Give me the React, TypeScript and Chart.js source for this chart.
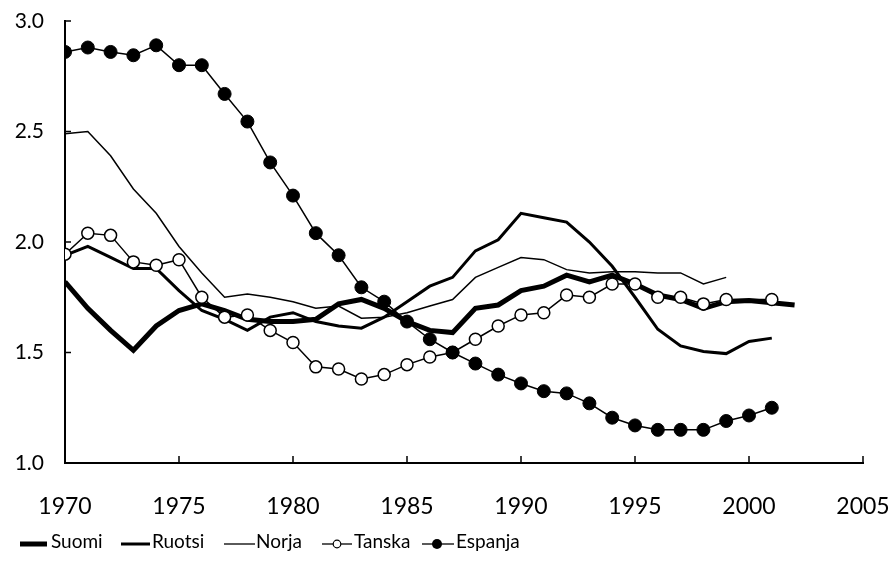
import React, { useEffect, useRef } from 'react';
import { Chart, registerables } from 'chart.js';
Chart.register(...registerables);

const years = [1970, 1971, 1972, 1973, 1974, 1975, 1976, 1977, 1978, 1979, 1980, 1981, 1982, 1983, 1984, 1985, 1986, 1987, 1988, 1989, 1990, 1991, 1992, 1993, 1994, 1995, 1996, 1997, 1998, 1999, 2000, 2001, 2002];

const suomi = [1.82, 1.70, 1.60, 1.51, 1.62, 1.69, 1.72, 1.69, 1.65, 1.64, 1.64, 1.65, 1.72, 1.74, 1.70, 1.64, 1.60, 1.59, 1.70, 1.715, 1.78, 1.80, 1.85, 1.82, 1.85, 1.81, 1.76, 1.74, 1.70, 1.73, 1.735, 1.725, 1.715];
const ruotsi = [1.94, 1.98, 1.93, 1.88, 1.88, 1.78, 1.69, 1.65, 1.60, 1.66, 1.68, 1.64, 1.62, 1.61, 1.66, 1.73, 1.80, 1.84, 1.96, 2.01, 2.13, 2.11, 2.09, 2.00, 1.89, 1.75, 1.605, 1.53, 1.505, 1.495, 1.55, 1.565];
const norja = [2.49, 2.50, 2.39, 2.24, 2.13, 1.98, 1.86, 1.75, 1.765, 1.75, 1.73, 1.70, 1.71, 1.655, 1.66, 1.68, 1.71, 1.74, 1.84, 1.885, 1.93, 1.92, 1.875, 1.86, 1.865, 1.865, 1.86, 1.86, 1.81, 1.84];
const tanska = [1.945, 2.04, 2.03, 1.91, 1.895, 1.92, 1.75, 1.66, 1.67, 1.60, 1.545, 1.435, 1.425, 1.38, 1.40, 1.445, 1.48, 1.50, 1.56, 1.62, 1.67, 1.68, 1.76, 1.75, 1.81, 1.81, 1.75, 1.75, 1.72, 1.74, null, 1.74];
const espanja = [2.86, 2.88, 2.86, 2.845, 2.89, 2.80, 2.80, 2.67, 2.545, 2.36, 2.21, 2.04, 1.94, 1.795, 1.73, 1.64, 1.56, 1.50, 1.45, 1.40, 1.36, 1.325, 1.315, 1.27, 1.205, 1.17, 1.15, 1.15, 1.15, 1.19, 1.215, 1.25];

const xTicks = [1970, 1975, 1980, 1985, 1990, 1995, 2000, 2005];
const yTicks = [1.0, 1.5, 2.0, 2.5, 3.0];
const seriesNames = ['Suomi', 'Ruotsi', 'Norja', 'Tanska', 'Espanja'];

const FONT = 'Lato, "Open Sans", sans-serif';
const LEGEND_FONT = '"Liberation Sans Narrow", Lato, sans-serif';

const toPoints = (vals: (number | null)[]) =>
  vals.map((v, i) => ({ x: years[i], y: v }));

const innerTicks = {
  id: 'innerTicks',
  afterDraw(chart: any) {
    const { ctx, chartArea, scales } = chart;
    ctx.save();
    ctx.strokeStyle = '#000';
    ctx.lineWidth = 1.5;
    ctx.beginPath();
    xTicks.forEach((t) => {
      const px = scales.x.getPixelForValue(t);
      ctx.moveTo(px, chartArea.bottom);
      ctx.lineTo(px, chartArea.bottom - 7);
    });
    yTicks.forEach((t) => {
      const py = scales.y.getPixelForValue(t);
      ctx.moveTo(chartArea.left, py);
      ctx.lineTo(chartArea.left + 6, py);
    });
    ctx.stroke();
    ctx.restore();
  },
};

export default function App() {
  const ref = useRef<HTMLCanvasElement | null>(null);
  useEffect(() => {
    if (!ref.current) return;
    const chart = new Chart(ref.current, {
      type: 'line',
      data: {
        datasets: [
          {
            label: seriesNames[0],
            data: toPoints(suomi),
            borderColor: '#000',
            borderWidth: 5,
            pointRadius: 0,
            order: 4,
          },
          {
            label: seriesNames[1],
            data: toPoints(ruotsi),
            borderColor: '#000',
            borderWidth: 3,
            pointRadius: 0,
            order: 3,
          },
          {
            label: seriesNames[2],
            data: toPoints(norja),
            borderColor: '#000',
            borderWidth: 1.5,
            pointRadius: 0,
            order: 2,
          },
          {
            label: seriesNames[3],
            data: toPoints(tanska),
            borderColor: '#000',
            borderWidth: 1.5,
            pointRadius: 6,
            pointBackgroundColor: '#fff',
            pointBorderColor: '#000',
            pointBorderWidth: 1.5,
            spanGaps: true,
            order: 1,
          },
          {
            label: seriesNames[4],
            data: toPoints(espanja),
            borderColor: '#000',
            borderWidth: 1.5,
            pointRadius: 6.5,
            pointBackgroundColor: '#000',
            pointBorderColor: '#000',
            pointBorderWidth: 1,
            order: 0,
          },
        ],
      },
      options: {
        animation: false,
        responsive: false,
        maintainAspectRatio: false,
        layout: { padding: { top: 21, right: 32, left: 0, bottom: 0 } },
        plugins: { legend: { display: false }, tooltip: { enabled: false } },
        elements: { line: { tension: 0 } },
        scales: {
          x: {
            type: 'linear',
            min: 1970,
            max: 2005,
            afterBuildTicks: (s: any) => {
              s.ticks = xTicks.map((v) => ({ value: v }));
            },
            afterFit: (s: any) => {
              s.height = 115;
              s.paddingLeft = 0;
              s.paddingRight = 0;
            },
            grid: { display: false, drawTicks: false },
            border: { display: true, color: '#000', width: 2 },
            ticks: {
              color: '#000',
              font: { family: FONT, size: 23 },
              padding: 30,
              maxRotation: 0,
              callback: (v: any) => String(v),
            },
          },
          y: {
            type: 'linear',
            min: 1.0,
            max: 3.0,
            afterBuildTicks: (s: any) => {
              s.ticks = yTicks.map((v) => ({ value: v }));
            },
            afterFit: (s: any) => {
              s.width = 65;
              s.paddingTop = 0;
              s.paddingBottom = 0;
            },
            grid: { display: false, drawTicks: false },
            border: { display: true, color: '#000', width: 2 },
            ticks: {
              color: '#000',
              font: { family: FONT, size: 21 },
              padding: 21,
              callback: (v: any) => Number(v).toFixed(1),
            },
          },
        },
      },
      plugins: [innerTicks],
    });
    return () => chart.destroy();
  }, []);

  const ly = 544;
  const ty = 548;
  const fs = 19;
  return (
    <div style={{ position: 'absolute', left: 0, top: 0, width: 895, height: 578, background: '#fff' }}>
      <canvas ref={ref} width={895} height={578} style={{ position: 'absolute', left: 0, top: 0, width: 895, height: 578 }} />
      <svg width={895} height={578} style={{ position: 'absolute', left: 0, top: 0, pointerEvents: 'none' }}>
        <line x1={20} y1={ly} x2={47} y2={ly} stroke="#000" strokeWidth={5} />
        <text x={51} y={ty} fontFamily={LEGEND_FONT} fontSize={fs} fill="#000">{seriesNames[0]}</text>
        <line x1={121} y1={ly} x2={150} y2={ly} stroke="#000" strokeWidth={3} />
        <text x={152} y={ty} fontFamily={LEGEND_FONT} fontSize={fs} fill="#000">{seriesNames[1]}</text>
        <line x1={224} y1={ly} x2={255} y2={ly} stroke="#000" strokeWidth={1.3} />
        <text x={256} y={ty} fontFamily={LEGEND_FONT} fontSize={fs} fill="#000">{seriesNames[2]}</text>
        <line x1={322} y1={ly} x2={352} y2={ly} stroke="#000" strokeWidth={1.3} />
        <circle cx={337} cy={ly} r={3.8} fill="#fff" stroke="#000" strokeWidth={1.2} />
        <text x={354} y={ty} fontFamily={LEGEND_FONT} fontSize={fs} fill="#000">{seriesNames[3]}</text>
        <line x1={422} y1={ly} x2={454} y2={ly} stroke="#000" strokeWidth={1.3} />
        <circle cx={437} cy={ly} r={5} fill="#000" />
        <text x={456} y={ty} fontFamily={LEGEND_FONT} fontSize={fs} fill="#000">{seriesNames[4]}</text>
      </svg>
    </div>
  );
}
